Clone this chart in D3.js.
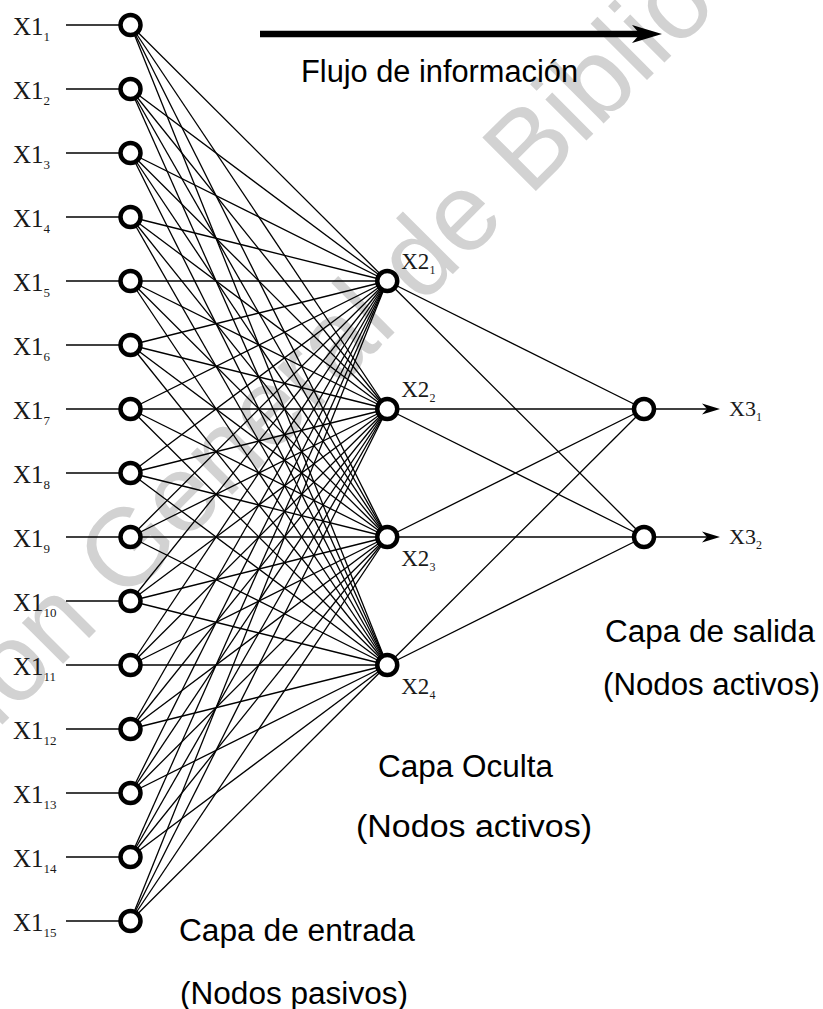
<!DOCTYPE html>
<html><head><meta charset="utf-8">
<script src="https://cdn.jsdelivr.net/npm/d3@7/dist/d3.min.js"></script>
<style>html,body{margin:0;padding:0;background:#fff}svg{display:block}</style>
</head><body>
<svg id="c" width="823" height="1009"></svg>
<script>
// ---- data ----
const layers = ["entrada", "oculta", "salida"];
const inputNodes = ["1","2","3","4","5","6","7","8","9","10","11","12","13","14","15"];
const hiddenNodes = ["1","2","3","4"];
const outputNodes = ["1","2"];
const inputPrefix = "X1", hiddenPrefix = "X2", outputPrefix = "X3";
const layerTitles = [
  ["Capa de entrada", "(Nodos pasivos)"],
  ["Capa Oculta", "(Nodos activos)"],
  ["Capa de salida", "(Nodos activos)"]
];
const flowLabel = "Flujo de información";
const watermarkParts = ["Dirección", "General de Bibliotecas"];

// ---- layout ----
const svg = d3.select("#c");
const x = d3.scalePoint().domain(layers).range([130.5, 644]);
const yIn = d3.scalePoint().domain(inputNodes).range([25, 921]);
const yHid = d3.scalePoint().domain(hiddenNodes).range([281, 665]);
const yOut = d3.scalePoint().domain(outputNodes).range([409, 537]);

const serif = "'Liberation Serif','Times New Roman',serif";
const sans = "'Liberation Sans',Arial,sans-serif";

// watermark (behind)
const wm = svg.append("g").attr("transform", "translate(123,604) rotate(-45)")
  .attr("font-family", sans).attr("font-size", 110).attr("fill", "#d2d2d2");
wm.append("text").attr("x", -31).attr("text-anchor", "end").text(watermarkParts[0]);
wm.append("text").attr("x", 0).text(watermarkParts[1]);

// connections input -> hidden
const links1 = [];
inputNodes.forEach(a => hiddenNodes.forEach(b => links1.push([a, b])));
svg.append("g").selectAll("line").data(links1).join("line")
  .attr("x1", x("entrada")).attr("y1", d => yIn(d[0]))
  .attr("x2", x("oculta")).attr("y2", d => yHid(d[1]))
  .attr("stroke", "#000").attr("stroke-width", 1.3);

const links2 = [];
hiddenNodes.forEach(a => outputNodes.forEach(b => links2.push([a, b])));
svg.append("g").selectAll("line").data(links2).join("line")
  .attr("x1", x("oculta")).attr("y1", d => yHid(d[0]))
  .attr("x2", x("salida")).attr("y2", d => yOut(d[1]))
  .attr("stroke", "#000").attr("stroke-width", 1.3);

// input stubs
svg.append("g").selectAll("line").data(inputNodes).join("line")
  .attr("x1", 66).attr("x2", x("entrada"))
  .attr("y1", d => yIn(d)).attr("y2", d => yIn(d))
  .attr("stroke", "#000").attr("stroke-width", 1.4);

// output arrows
const outG = svg.append("g");
outG.selectAll("line").data(outputNodes).join("line")
  .attr("x1", x("salida")).attr("x2", 712)
  .attr("y1", d => yOut(d)).attr("y2", d => yOut(d))
  .attr("stroke", "#000").attr("stroke-width", 1.4);
outG.selectAll("path").data(outputNodes).join("path")
  .attr("d", d => { const y = yOut(d); return `M720,${y} L702,${y-5.5} L707,${y} L702,${y+5.5} Z`; })
  .attr("fill", "#000");

// nodes
function nodes(data, cx, ys) {
  svg.append("g").selectAll("circle").data(data).join("circle")
    .attr("cx", cx).attr("cy", d => ys(d)).attr("r", 10)
    .attr("fill", "#fff").attr("stroke", "#000").attr("stroke-width", 4.5);
}
nodes(inputNodes, x("entrada"), yIn);
nodes(hiddenNodes, x("oculta"), yHid);
nodes(outputNodes, x("salida"), yOut);

// labels
function label(g, px, py, prefix, sub, fs, subfs) {
  const t = g.append("text").attr("x", px).attr("y", py)
    .attr("font-family", serif).attr("font-size", fs).attr("fill", "#1a1a1a");
  t.append("tspan").text(prefix);
  t.append("tspan").attr("dy", fs * 0.22).attr("font-size", subfs).text(sub);
}
const lg = svg.append("g");
inputNodes.forEach(d => label(lg, 13, yIn(d) + 10, inputPrefix, d, 25, 13));
hiddenNodes.forEach((d, i) => label(lg, x("oculta") + 14, yHid(d) + (i < 2 ? -12 : 29), hiddenPrefix, d, 23, 12));
outputNodes.forEach(d => label(lg, 729, yOut(d) + 7, outputPrefix, d, 22, 12));

// flow arrow
svg.append("line").attr("x1", 260).attr("x2", 640).attr("y1", 34).attr("y2", 34)
  .attr("stroke", "#000").attr("stroke-width", 6.5);
svg.append("path").attr("d", "M662,34 L632,25 L640,34 L632,43 Z").attr("fill", "#000");
svg.append("text").attr("x", 301).attr("y", 82)
  .attr("font-family", sans).attr("font-size", 31).attr("fill", "#000")
  .attr("textLength", 277).attr("lengthAdjust", "spacingAndGlyphs").text(flowLabel);

// layer titles
const titlePos = [
  [[179, 941, 236], [180, 1004, 228]],
  [[378, 777, 175], [356, 837, 236]],
  [[605, 642, 210], [603, 695, 217]]
];
layerTitles.forEach((lines, i) => {
  lines.forEach((s, j) => {
    const p = titlePos[i][j];
    svg.append("text").attr("x", p[0]).attr("y", p[1])
      .attr("font-family", sans).attr("font-size", 31).attr("fill", "#000")
      .attr("textLength", p[2]).attr("lengthAdjust", "spacingAndGlyphs").text(s);
  });
});
</script>
</body></html>
